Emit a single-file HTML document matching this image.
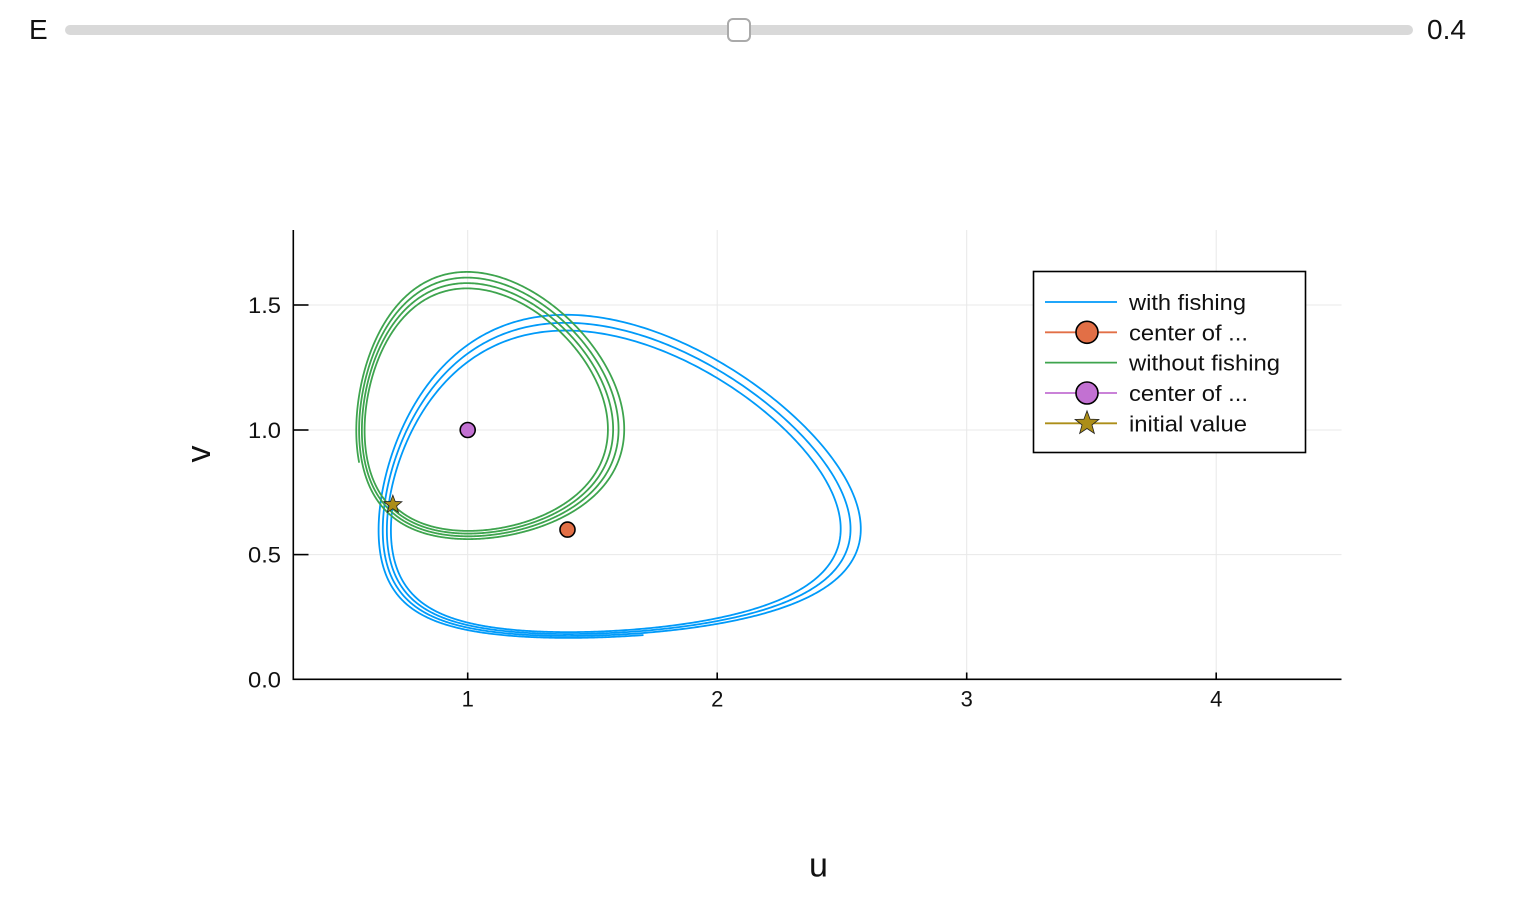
<!DOCTYPE html>
<html>
<head>
<meta charset="utf-8">
<style>
html,body{margin:0;padding:0;background:#fff;}
body{width:1519px;height:902px;overflow:hidden;position:relative;font-family:"Liberation Sans",Arial,sans-serif;}
#E{position:absolute;left:29px;top:14px;font-size:28px;color:#111;}
#track{position:absolute;left:65px;top:25px;width:1348px;height:10px;border-radius:5px;background:#d9d9d9;}
#handle{position:absolute;left:727px;top:18px;width:20px;height:20px;border:2px solid #aaa;border-radius:6px;background:#fff;}
#val{position:absolute;left:1427px;top:14px;font-size:28px;color:#111;}
svg{position:absolute;left:0;top:0;}
</style>
</head>
<body>
<div id="E">E</div>
<div id="track"></div>
<div id="handle"></div>
<div id="val">0.4</div>
<svg width="1519" height="902" viewBox="0 0 1519 902" xmlns="http://www.w3.org/2000/svg">
  <!-- grid -->
  <g stroke="#e8e8e8" stroke-width="1">
    <line x1="467.7" y1="230" x2="467.7" y2="679"/>
    <line x1="717.2" y1="230" x2="717.2" y2="679"/>
    <line x1="966.7" y1="230" x2="966.7" y2="679"/>
    <line x1="1216.2" y1="230" x2="1216.2" y2="679"/>
    <line x1="293" y1="305" x2="1341.5" y2="305"/>
    <line x1="293" y1="430" x2="1341.5" y2="430"/>
    <line x1="293" y1="554.6" x2="1341.5" y2="554.6"/>
  </g>
  <!-- axes -->
  <g stroke="#000" stroke-width="1.6">
    <line x1="293.3" y1="230" x2="293.3" y2="680"/>
    <line x1="292.5" y1="679.3" x2="1341.5" y2="679.3"/>
    <line x1="293" y1="305" x2="308.5" y2="305"/>
    <line x1="293" y1="430" x2="308.5" y2="430"/>
    <line x1="293" y1="554.6" x2="308.5" y2="554.6"/>
    <line x1="467.7" y1="679" x2="467.7" y2="672.5"/>
    <line x1="717.2" y1="679" x2="717.2" y2="672.5"/>
    <line x1="966.7" y1="679" x2="966.7" y2="672.5"/>
    <line x1="1216.2" y1="679" x2="1216.2" y2="672.5"/>
  </g>
  <g font-family="Liberation Sans, Arial, sans-serif" font-size="22" fill="#111">
    <text x="248" y="313" textLength="33" lengthAdjust="spacingAndGlyphs">1.5</text>
    <text x="248" y="438" textLength="33" lengthAdjust="spacingAndGlyphs">1.0</text>
    <text x="248" y="562.6" textLength="33" lengthAdjust="spacingAndGlyphs">0.5</text>
    <text x="248" y="687.3" textLength="33" lengthAdjust="spacingAndGlyphs">0.0</text>
    <text x="467.7" y="706.7" text-anchor="middle">1</text>
    <text x="717.2" y="706.7" text-anchor="middle">2</text>
    <text x="966.7" y="706.7" text-anchor="middle">3</text>
    <text x="1216.2" y="706.7" text-anchor="middle">4</text>
  </g>
  <text x="818.5" y="876.7" text-anchor="middle" font-family="Liberation Sans, Arial, sans-serif" font-size="34" fill="#111">u</text>
  <text transform="translate(210,454) rotate(-90)" x="0" y="0" text-anchor="middle" font-family="Liberation Sans, Arial, sans-serif" font-size="34" fill="#111">v</text>

  <!-- series -->
  <path id="blue" d="" fill="none" stroke="#009af9" stroke-width="1.8" stroke-linejoin="round"/>
  <circle cx="567.5" cy="529.6" r="7.5" fill="#e26f46" stroke="#000" stroke-width="1.6"/>
  <path id="green" d="" fill="none" stroke="#3ea44e" stroke-width="1.8" stroke-linejoin="round"/>
  <circle cx="467.7" cy="430" r="7.5" fill="#c271d2" stroke="#000" stroke-width="1.6"/>
  <polygon id="star" points="" fill="#ac8e18" stroke="#222" stroke-width="0.8"/>

  <!-- legend -->
  <rect x="1033.5" y="271.5" width="272" height="181" fill="#fff" stroke="#000" stroke-width="1.6"/>
  <g stroke-width="1.8">
    <line x1="1045" y1="302" x2="1117" y2="302" stroke="#009af9"/>
    <line x1="1045" y1="332.3" x2="1117" y2="332.3" stroke="#e26f46"/>
    <line x1="1045" y1="362.6" x2="1117" y2="362.6" stroke="#3ea44e"/>
    <line x1="1045" y1="393" x2="1117" y2="393" stroke="#c271d2"/>
    <line x1="1045" y1="423.3" x2="1117" y2="423.3" stroke="#ac8e18"/>
  </g>
  <circle cx="1087" cy="332.3" r="11" fill="#e26f46" stroke="#000" stroke-width="1.6"/>
  <circle cx="1087" cy="393" r="11" fill="#c271d2" stroke="#000" stroke-width="1.6"/>
  <polygon id="lstar" points="" fill="#ac8e18" stroke="#222" stroke-width="0.8"/>
  <g font-family="Liberation Sans, Arial, sans-serif" font-size="22.5" fill="#111">
    <text x="1129" y="310" textLength="117" lengthAdjust="spacingAndGlyphs">with fishing</text>
    <text x="1129" y="340.3" textLength="119" lengthAdjust="spacingAndGlyphs">center of ...</text>
    <text x="1129" y="370.6" textLength="151" lengthAdjust="spacingAndGlyphs">without fishing</text>
    <text x="1129" y="401" textLength="119" lengthAdjust="spacingAndGlyphs">center of ...</text>
    <text x="1129" y="431.3" textLength="118" lengthAdjust="spacingAndGlyphs">initial value</text>
  </g>
</svg>
<script>
(function(){
  function px(u){return 218.2+249.5*u;}
  function py(v){return 679.3-249.4*v;}
  function sim(E,dt,T){
    var u=0.7,v=0.7,n=Math.round(T/dt),d="M"+px(u).toFixed(2)+" "+py(v).toFixed(2);
    for(var i=0;i<n;i++){
      var du=u*(1-v)-E*u, dv=v*(u-1)-E*v;
      u+=dt*du; v+=dt*dv;
      d+="L"+px(u).toFixed(2)+" "+py(v).toFixed(2);
    }
    return d;
  }
  document.getElementById("blue").setAttribute("d",sim(0.4,0.01,25));
  document.getElementById("green").setAttribute("d",sim(0.0,0.01,25));
  function star(cx,cy,R,r){
    var p=[];
    for(var k=0;k<10;k++){
      var a=-Math.PI/2+k*Math.PI/5, rr=(k%2==0)?R:r;
      p.push((cx+rr*Math.cos(a)).toFixed(2)+","+(cy+rr*Math.sin(a)).toFixed(2));
    }
    return p.join(" ");
  }
  document.getElementById("star").setAttribute("points",star(392.85,504.7,9.5,4));
  document.getElementById("lstar").setAttribute("points",star(1087,423.3,12.5,5.2));
})();
</script>
</body>
</html>
